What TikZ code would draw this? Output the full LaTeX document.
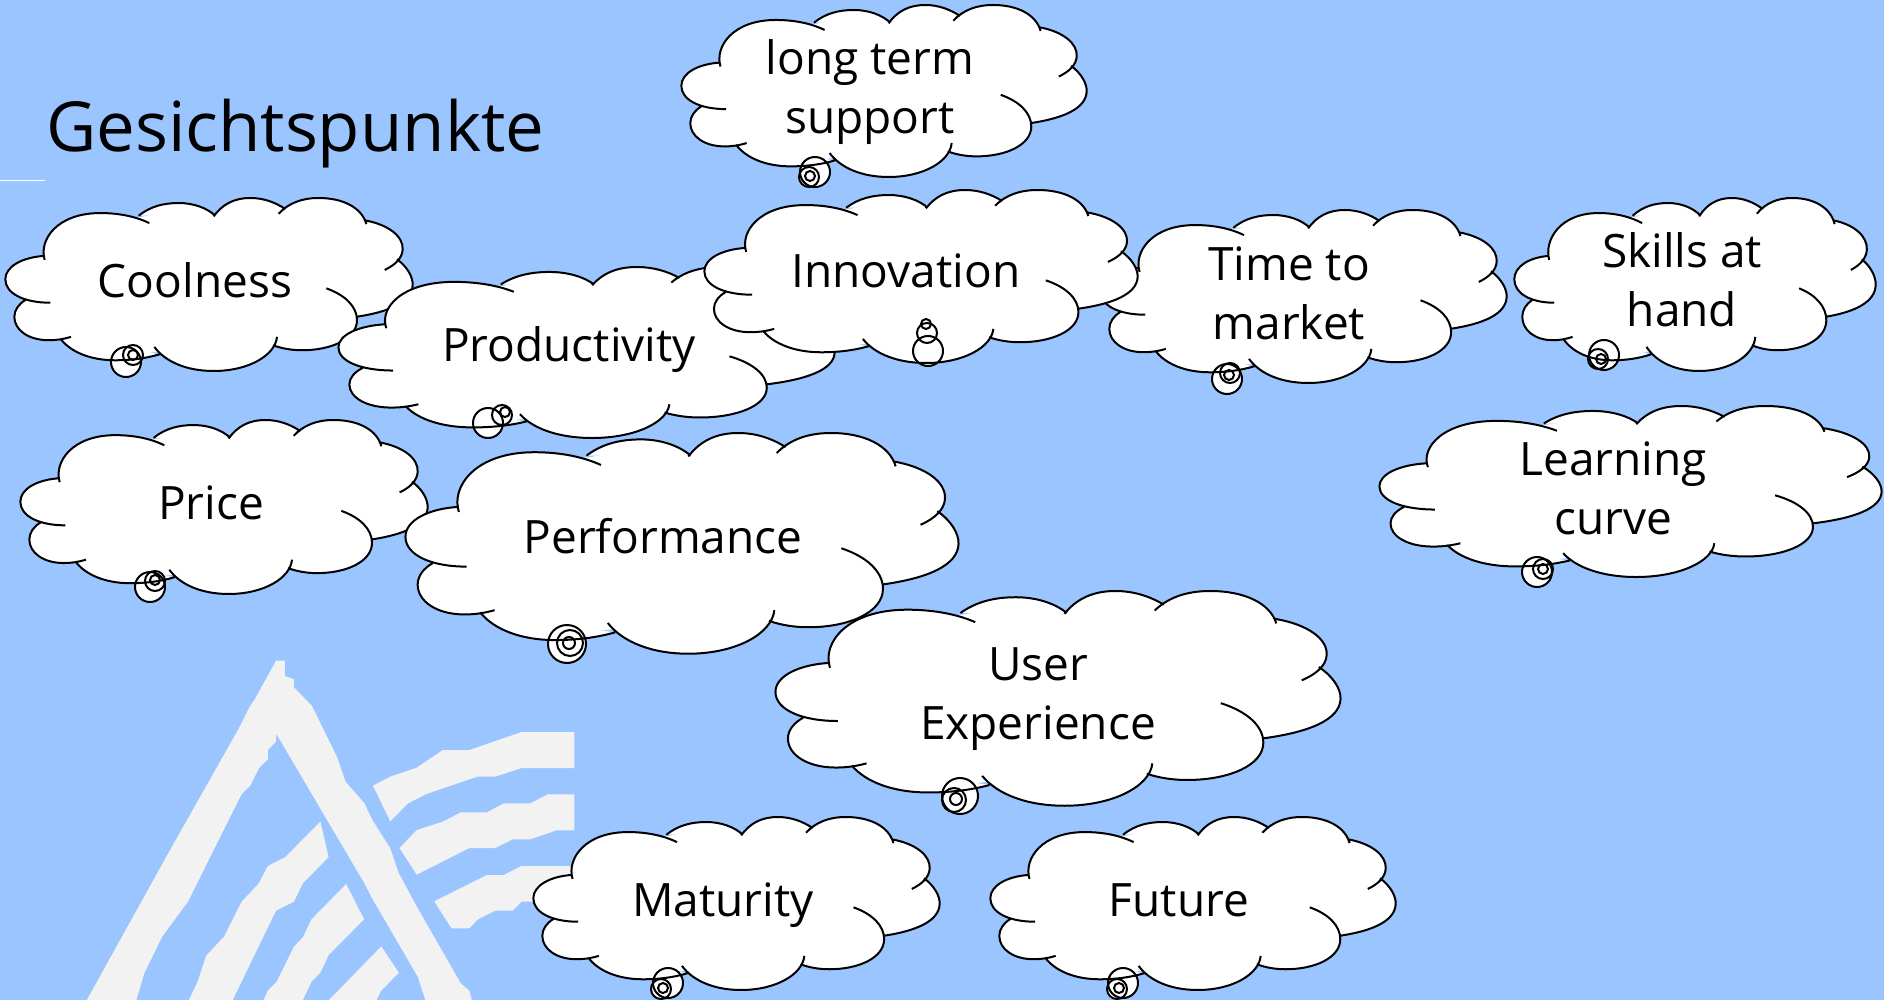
\documentclass[tikz,border=0pt]{standalone}
\usepackage{fontspec}
\setmainfont{Open Sans}
\definecolor{slideblue}{HTML}{9BC5FF}
\definecolor{logogray}{HTML}{F2F2F2}
\tikzset{
    cloudline/.style={draw=black, line width=2pt},
    cloudtext/.style={align=center, inner sep=0pt, font=\fontsize{46}{59}\selectfont},
    logopart/.style={fill=logogray, draw=none}
}
% one cloud, traced once and scaled for all the others
\newcommand{\cloudlobes}{
    (133,240) .. controls (115,180) and (170,100) .. (300,100) .. controls (360,100) and (410,112) .. (447,130)
    (415,108) .. controls (450,80) and (490,70) .. (535,70) .. controls (580,70) and (620,85) .. (645,108)
    (640,110) .. controls (665,75) and (700,55) .. (750,55) .. controls (790,55) and (825,68) .. (855,88)
    (835,102) .. controls (865,70) and (905,55) .. (955,55) .. controls (1030,55) and (1085,85) .. (1098,133)
    (1095,122) .. controls (1165,135) and (1210,170) .. (1207,210) .. controls (1205,235) and (1185,255) .. (1153,270)
    (1190,238) .. controls (1220,260) and (1238,290) .. (1237,315) .. controls (1235,365) and (1170,395) .. (1068,410)
    (978,325) .. controls (1035,345) and (1070,380) .. (1070,420) .. controls (1070,475) and (995,510) .. (905,510) .. controls (875,510) and (845,505) .. (818,495)
    (830,470) .. controls (825,525) and (745,572) .. (640,572) .. controls (560,572) and (495,545) .. (462,500)
    (478,522) .. controls (435,535) and (390,540) .. (345,540) .. controls (270,540) and (210,515) .. (180,475)
    (212,470) .. controls (185,478) and (165,480) .. (145,480) .. controls (85,480) and (42,450) .. (42,410) .. controls (42,390) and (55,372) .. (75,360)
    (150,368) .. controls (70,368) and (15,340) .. (15,298) .. controls (15,260) and (65,232) .. (133,228)
}
% name, left, top, width, height, text x, text y, text, tail circles x/y/r
\newcommand{\thoughtcloud}[9]{
    \foreach \cx/\cy/\cr in {#9} {
        \fill[white] (\cx,\cy) circle[radius=\cr pt];
    }
    \begin{scope}[shift={(#2,#3)}, xscale=#4/1224, yscale=#5/520, shift={(-14,-55)}]
        \fill[white] \cloudlobes;
        \fill[white] (133,235) -- (300,120) -- (420,112) -- (535,90) -- (642,108) -- (750,75) -- (848,90) -- (955,75) -- (1097,130) -- (1150,170) -- (1192,240) -- (1200,300) -- (1068,410) -- (1000,450) -- (825,500) -- (640,550) -- (470,515) -- (345,530) -- (180,478) -- (145,460) -- (75,362) -- (60,300) -- cycle;
        \draw[cloudline] \cloudlobes;
    \end{scope}
    \foreach \cx/\cy/\cr in {#9} {
        \draw[cloudline] (\cx,\cy) circle[radius=\cr pt];
    }
    \node[cloudtext] (#1) at (#6,#7) {#8};
}

\begin{document}
\begin{tikzpicture}[x=1pt, y=-1pt]
    \useasboundingbox (0,0) rectangle (1884,1000);
    \fill[slideblue] (0,0) rectangle (1884,1000);
    \fill[white] (0,180) rectangle (45,181.5);

    % logo in the corner
    \begin{scope}[shift={(60,640)}, xscale=0.344, yscale=1/3]
        \fill[logopart] (628,62) -- (654,62) -- (654,108) -- (680,118) -- (680,142) -- (732,197) -- (805,350) -- (830,425) -- (885,490) -- (908,540) -- (960,625) -- (985,700) -- (1040,805) -- (1165,1030) -- (1190,1052) -- (1197,1080) -- (1062,1080) -- (1040,1010) -- (910,780) -- (885,730) -- (628,280) -- (628,305) -- (604,330) -- (604,358) -- (578,385) -- (553,437) -- (528,462) -- (372,785) -- (297,890) -- (245,1000) -- (222,1080) -- (78,1080) -- (320,630) -- (520,265) -- (553,197) -- (565,180) -- cycle;
        \fill[logopart] (910,437) -- (960,410) -- (1037,383) -- (1113,330) -- (1190,330) -- (1342,276) -- (1495,276) -- (1495,384) -- (1342,384) -- (1265,410) -- (1213,410) -- (1065,462) -- (1012,490) -- (960,544) -- cycle;
        \fill[logopart] (987,624) -- (1037,570) -- (1113,545) -- (1165,517) -- (1241,517) -- (1290,490) -- (1367,490) -- (1418,463) -- (1495,463) -- (1495,571) -- (1443,571) -- (1367,598) -- (1316,598) -- (1265,624) -- (1190,624) -- (1037,704) -- cycle;
        \fill[logopart] (1088,784) -- (1241,705) -- (1290,705) -- (1342,678) -- (1495,678) -- (1495,785) -- (1342,785) -- (1316,812) -- (1265,812) -- (1215,838) -- (1190,865) -- (1138,865) -- cycle;
        \fill[logopart] (757,545) -- (781,651) -- (706,730) -- (680,785) -- (628,812) -- (502,1080) -- (375,1080) -- (400,1025) -- (425,947) -- (477,890) -- (528,785) -- (578,730) -- (604,678) -- (655,651) -- cycle;
        \fill[logopart] (832,732) -- (884,838) -- (781,945) -- (757,998) -- (731,1025) -- (706,1080) -- (592,1080) -- (604,1052) -- (630,1025) -- (680,920) -- (706,892) -- (731,838) -- cycle;
        \fill[logopart] (934,919) -- (985,998) -- (934,1052) -- (920,1080) -- (782,1080) -- cycle;
    \end{scope}

    \node[anchor=base west, inner sep=0pt, font=\fontsize{69}{72}\selectfont] (title) at (46,152) {Gesichtspunkte};

    \thoughtcloud{longterm}{681}{5}{406}{173}{870}{92}{long term\\support}{815/172/15, 809/177/10, 810/176/5}
    \thoughtcloud{coolness}{5}{198}{408}{174}{195}{280}{Coolness}{126/362/15, 133/355/10, 133/355/5}
    \thoughtcloud{productivity}{338}{267}{497}{172}{569}{350}{Productivity}{488/423/15, 502/415/10, 505/412/5}
    \thoughtcloud{timetomarket}{1100}{210}{407}{174}{1289}{293}{Time to\\market}{1227/379/15, 1230/373/10, 1229/375/5}
    \thoughtcloud{innovation}{704}{190}{434}{174}{906}{271}{Innovation}{928/351/15, 927/333/10, 926/324/5}
    \thoughtcloud{skills}{1514}{198}{362}{174}{1682}{280}{Skills at\\hand}{1604/355/15, 1598/359/10, 1601/359/5}
    \thoughtcloud{price}{20}{420}{408}{175}{211}{503}{Price}{150/587/15, 155/581/10, 155/580/5}
    \thoughtcloud{performance}{405}{433}{554}{222}{663}{536}{Performance}{567/644/19, 570/643/13, 569/643/6}
    \thoughtcloud{learning}{1379}{406}{503}{172}{1613}{488}{Learning\\curve}{1537/572/15, 1543/569/10, 1543/569/5}
    \thoughtcloud{userexperience}{775}{591}{566}{216}{1038}{699}{User\\Experience}{960/796/18, 954/800/12, 956/799/6}
    \thoughtcloud{maturity}{533}{817}{407}{174}{723}{905}{Maturity}{668/983/15, 661/989/10, 663/988/5}
    \thoughtcloud{future}{990}{817}{406}{174}{1179}{900}{Future}{1123/983/15, 1117/989/10, 1119/988/5}
\end{tikzpicture}
\end{document}
